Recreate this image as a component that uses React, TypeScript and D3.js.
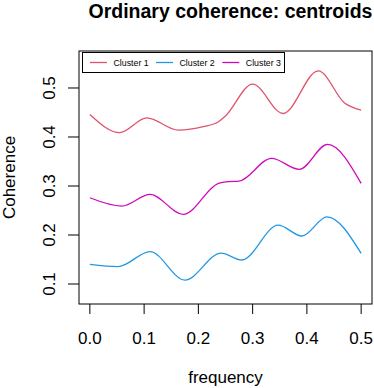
import React from "react";
import * as d3 from "d3";

// centroid coherence curves
const cluster1Freq = [0, 0.055, 0.105, 0.163, 0.209, 0.237, 0.25, 0.3, 0.356, 0.421, 0.47, 0.5];
const cluster1Coh = [0.446, 0.409, 0.439, 0.414, 0.421, 0.431, 0.443, 0.508, 0.448, 0.535, 0.469, 0.455];

const cluster2Freq = [0, 0.052, 0.111, 0.175, 0.242, 0.28, 0.347, 0.391, 0.437, 0.5];
const cluster2Coh = [0.14, 0.1355, 0.166, 0.108, 0.163, 0.149, 0.22, 0.198, 0.237, 0.1625];

const cluster3Freq = [0, 0.059, 0.111, 0.172, 0.237, 0.256, 0.275, 0.335, 0.386, 0.438, 0.5];
const cluster3Coh = [0.276, 0.259, 0.283, 0.242, 0.3055, 0.309, 0.31, 0.3565, 0.334, 0.385, 0.3055];

const seriesNames = ["Cluster 1", "Cluster 2", "Cluster 3"];
const seriesColors = ["#DF536B", "#2297E6", "#CD0BBC"];

const xTicks = [0, 0.1, 0.2, 0.3, 0.4, 0.5];
const yTicks = [0.1, 0.2, 0.3, 0.4, 0.5];

const W = 374;
const H = 388;
const box = {left: 79, right: 372, top: 51, bottom: 304};
const font = "'Liberation Sans', Arial, Helvetica, sans-serif";

export default function App() {
    const x = d3.scaleLinear().domain([-0.02, 0.52]).range([box.left, box.right]);
    const y = d3.scaleLinear().domain([0.0592, 0.5755]).range([box.bottom, box.top]);

    const line = d3.line<[number, number]>()
        .x(d => x(d[0]))
        .y(d => y(d[1]))
        .curve(d3.curveMonotoneX);

    const series = [
        d3.zip(cluster1Freq, cluster1Coh) as [number, number][],
        d3.zip(cluster2Freq, cluster2Coh) as [number, number][],
        d3.zip(cluster3Freq, cluster3Coh) as [number, number][],
    ];

    const midX = (box.left + box.right) / 2;
    const midY = (box.top + box.bottom) / 2;

    // legend layout (top-left inside box)
    const leg = {x: 82.5, y: 52.5, w: 202, h: 20};
    const entryX = [90, 156, 222.3];

    return (
        <svg width={W} height={H} viewBox={`0 0 ${W} ${H}`}
             style={{position: "absolute", left: 0, top: 0, background: "#fff"}}
             fontFamily={font}>

            <text x={230.5} y={18} textAnchor="middle" fontSize={19.5} fontWeight="bold">
                Ordinary coherence: centroids
            </text>

            {series.map((s, i) => (
                <path key={i} d={line(s) ?? ""} fill="none"
                      stroke={seriesColors[i]} strokeWidth={1.3} />
            ))}

            <rect x={box.left} y={box.top} width={box.right - box.left} height={box.bottom - box.top}
                  fill="none" stroke="#000" strokeWidth={1} />

            {/* x axis */}
            <g>
                {xTicks.map(t => (
                    <g key={t}>
                        <line x1={x(t)} x2={x(t)} y1={box.bottom} y2={box.bottom + 10} stroke="#000" />
                        <text x={x(t)} y={344} textAnchor="middle" fontSize={17}>{t.toFixed(1)}</text>
                    </g>
                ))}
            </g>

            {/* y axis */}
            <g>
                {yTicks.map(t => (
                    <g key={t}>
                        <line x1={box.left - 11} x2={box.left} y1={y(t)} y2={y(t)} stroke="#000" />
                        <text transform={`translate(55,${y(t)}) rotate(-90)`} textAnchor="middle" fontSize={17}>
                            {t.toFixed(1)}
                        </text>
                    </g>
                ))}
            </g>

            <text x={midX} y={383} textAnchor="middle" fontSize={17}>frequency</text>
            <text transform={`translate(15,${midY}) rotate(-90)`} textAnchor="middle" fontSize={17}>Coherence</text>

            {/* legend */}
            <rect x={leg.x} y={leg.y} width={leg.w} height={leg.h} fill="#fff" stroke="#000" />
            {seriesNames.map((n, i) => (
                <g key={n}>
                    <line x1={entryX[i]} x2={entryX[i] + 17} y1={leg.y + leg.h / 2} y2={leg.y + leg.h / 2}
                          stroke={seriesColors[i]} strokeWidth={1.3} />
                    <text x={entryX[i] + 23.5} y={leg.y + leg.h / 2 + 3.2} fontSize={8.8}>{n}</text>
                </g>
            ))}
        </svg>
    );
}
